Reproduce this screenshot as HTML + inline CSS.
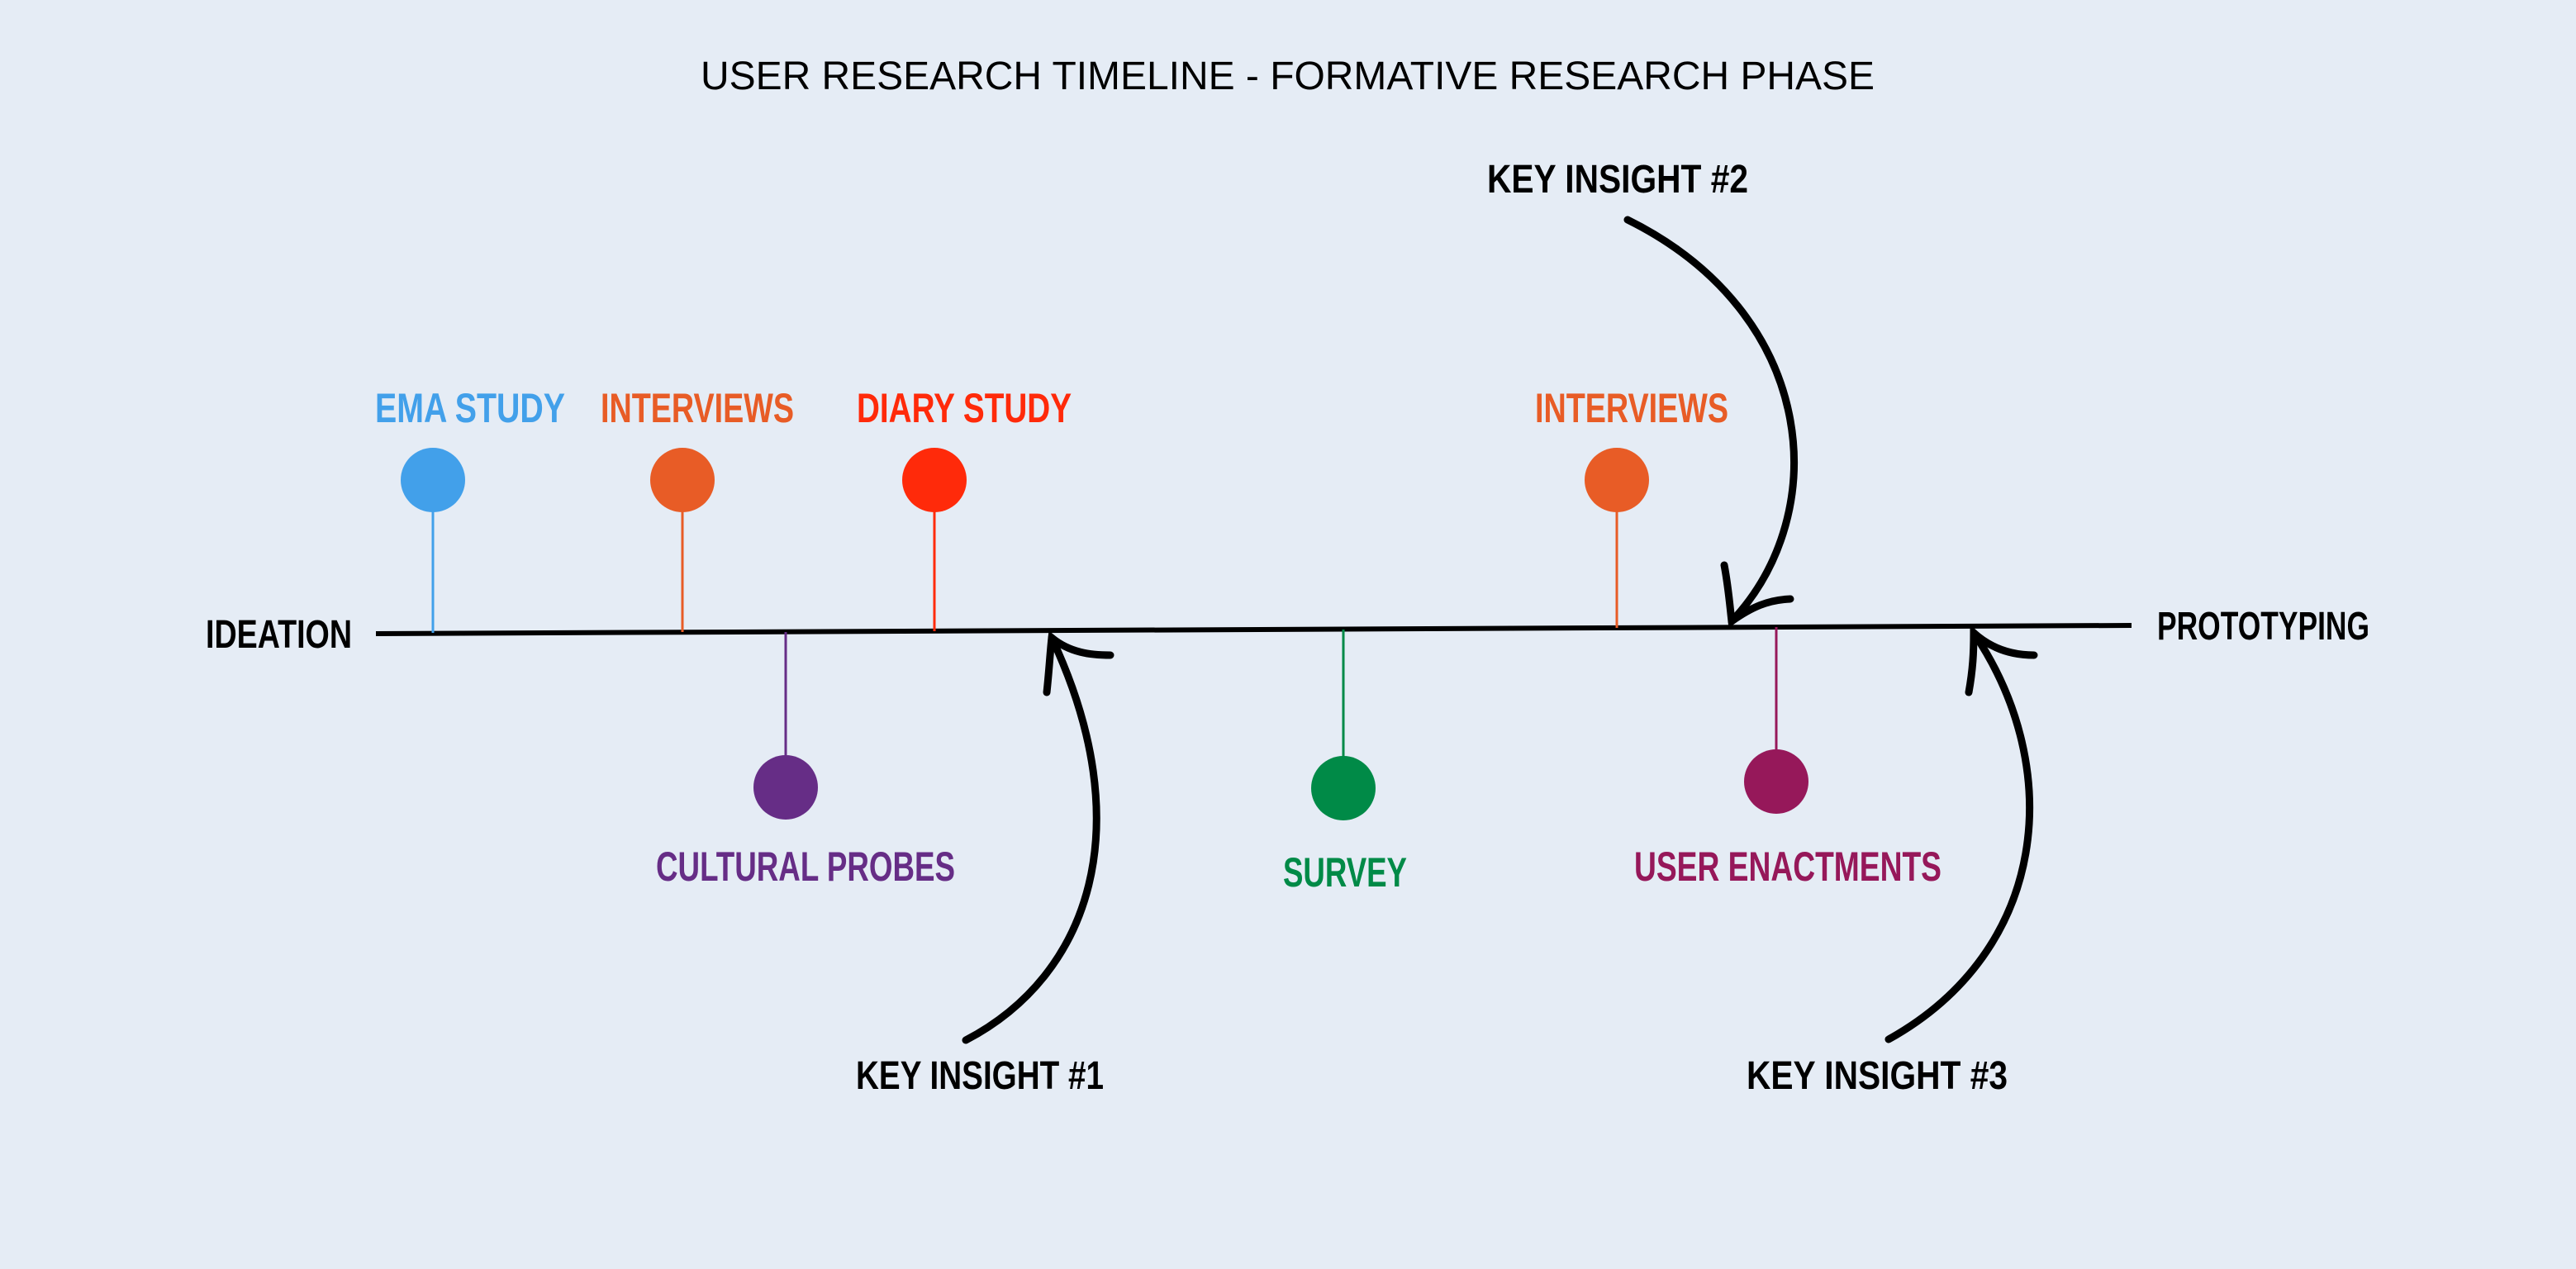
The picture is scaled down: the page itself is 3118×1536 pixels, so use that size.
<!DOCTYPE html>
<html><head><meta charset="utf-8"><style>
html,body{margin:0;padding:0;background:#e5ecf5;}
svg{display:block}
.h{font-family:"Liberation Sans Narrow","Liberation Sans",sans-serif;font-weight:bold;}
</style></head><body>
<svg width="3118" height="1536" viewBox="0 0 3118 1536" xmlns="http://www.w3.org/2000/svg">
<rect width="3118" height="1536" fill="#e5ecf5"/>
<text x="848" y="108" font-family="Liberation Sans Narrow, Liberation Sans, sans-serif" font-size="48" textLength="1421" lengthAdjust="spacingAndGlyphs" fill="#000">USER RESEARCH TIMELINE - FORMATIVE RESEARCH PHASE</text>

<!-- timeline -->
<path d="M455,767 L2580,757" stroke="#000" stroke-width="6" fill="none"/>

<!-- stems -->
<g stroke-width="3">
<line x1="524" y1="590" x2="524" y2="766" stroke="#42a0ea"/>
<line x1="826" y1="590" x2="826" y2="765" stroke="#e85c26"/>
<line x1="1131" y1="590" x2="1131" y2="764" stroke="#ff2a0a"/>
<line x1="1957" y1="590" x2="1957" y2="760" stroke="#e85c26"/>
<line x1="951" y1="765" x2="951" y2="950" stroke="#662d86"/>
<line x1="1626" y1="762" x2="1626" y2="950" stroke="#008a47"/>
<line x1="2150" y1="759" x2="2150" y2="945" stroke="#96185a"/>
</g>
<!-- circles -->
<circle cx="524" cy="581" r="39" fill="#42a0ea"/>
<circle cx="826" cy="581" r="39" fill="#e85c26"/>
<circle cx="1131" cy="581" r="39" fill="#ff2a0a"/>
<circle cx="1957" cy="581" r="39" fill="#e85c26"/>
<circle cx="951" cy="953" r="39" fill="#662d86"/>
<circle cx="1626" cy="954" r="39" fill="#008a47"/>
<circle cx="2150" cy="946" r="39" fill="#96185a"/>

<!-- labels -->
<g class="h" font-size="50">
<text x="454" y="511" textLength="230" lengthAdjust="spacingAndGlyphs" fill="#42a0ea">EMA STUDY</text>
<text x="727" y="511" textLength="234" lengthAdjust="spacingAndGlyphs" fill="#e85c26">INTERVIEWS</text>
<text x="1037" y="511" textLength="260" lengthAdjust="spacingAndGlyphs" fill="#ff2a0a">DIARY STUDY</text>
<text x="1858" y="511" textLength="234" lengthAdjust="spacingAndGlyphs" fill="#e85c26">INTERVIEWS</text>
<text x="794" y="1066" textLength="362" lengthAdjust="spacingAndGlyphs" fill="#662d86">CULTURAL PROBES</text>
<text x="1553" y="1073" textLength="150" lengthAdjust="spacingAndGlyphs" fill="#008a47">SURVEY</text>
<text x="1978" y="1066" textLength="372" lengthAdjust="spacingAndGlyphs" fill="#96185a">USER ENACTMENTS</text>
</g>
<g class="h" font-size="48" fill="#000">
<text x="249" y="784" textLength="177" lengthAdjust="spacingAndGlyphs">IDEATION</text>
<text x="2611" y="774" textLength="257" lengthAdjust="spacingAndGlyphs">PROTOTYPING</text>
<text x="1800" y="233" textLength="316" lengthAdjust="spacingAndGlyphs">KEY INSIGHT #2</text>
<text x="1036" y="1318" textLength="300" lengthAdjust="spacingAndGlyphs">KEY INSIGHT #1</text>
<text x="2114" y="1318" textLength="316" lengthAdjust="spacingAndGlyphs">KEY INSIGHT #3</text>
</g>

<!-- arrows -->
<g stroke="#000" stroke-width="9" fill="none" stroke-linecap="round">
<path d="M1169,1259 C1320,1180 1380,1000 1273,772"/>
<path d="M1267,838 C1270,810 1271,790 1273,772 C1295,790 1320,793 1344,793"/>
<path d="M1970,266 C2200,380 2220,620 2096,752"/>
<path d="M2087,684 C2092,710 2094,735 2096,752 C2120,735 2140,726 2167,725"/>
<path d="M2286,1258 C2480,1150 2500,930 2389,766"/>
<path d="M2383,838 C2388,810 2389,790 2389,766 C2410,785 2435,793 2462,793"/>
</g>
</svg>
</body></html>
